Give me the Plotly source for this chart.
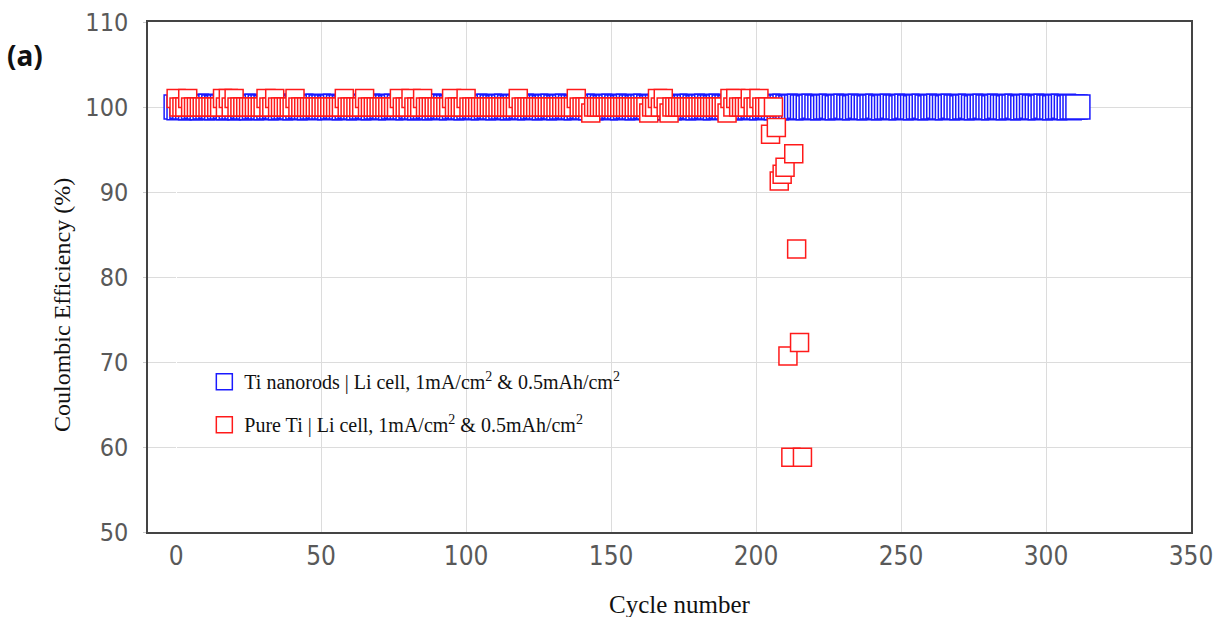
import plotly.graph_objects as go

# ---- data ----
blue_cycles = list(range(0, 312))
blue_ce = [
    100.0, 99.9, 100.1, 100.0, 100.0, 99.9, 100.0, 100.1, 100.0, 99.9, 100.0, 100.0, 100.1,
    100.0, 99.9, 100.0, 100.0, 100.1, 99.9, 100.0, 100.0, 100.0, 99.9, 100.1, 100.0, 100.0,
    99.9, 100.0, 100.1, 100.0, 100.0, 99.9, 100.0, 100.0, 100.1, 100.0, 99.9, 100.0, 100.0,
    100.1, 100.0, 99.9, 100.0, 100.1, 100.0, 100.0, 99.9, 100.0, 100.0, 100.1, 100.0, 100.0,
    100.0, 99.9, 100.0, 100.1, 100.0, 100.0, 99.9, 100.0, 100.1, 100.0, 100.0, 99.9, 100.0,
    100.0, 100.1, 100.0, 99.9, 100.0, 100.0, 100.1, 100.0, 100.0, 99.9, 100.0, 100.1, 100.0,
    100.0, 100.0, 99.9, 100.1, 100.0, 100.0, 99.9, 100.0, 100.0, 100.1, 100.0, 99.9, 100.0,
    100.0, 100.1, 100.0, 100.0, 99.9, 100.0, 100.1, 100.0, 100.0, 99.9, 100.0, 100.0, 100.1,
    100.0, 100.0, 99.9, 100.0, 100.1, 100.0, 100.0, 99.9, 100.0, 100.0, 100.1, 100.0, 99.9,
    100.0, 100.0, 100.1, 100.0, 100.0, 99.9, 100.0, 100.1, 100.0, 100.0, 99.9, 100.0, 100.0,
    100.1, 100.0, 99.9, 100.0, 100.0, 100.1, 100.0, 100.0, 99.9, 100.0, 100.1, 100.0, 100.0,
    99.9, 100.0, 100.0, 100.1, 100.0, 99.9, 100.0, 100.0, 100.1, 100.0, 100.0, 99.9, 100.0,
    100.1, 100.0, 100.0, 99.9, 100.0, 100.0, 100.1, 100.0, 99.9, 100.0, 100.0, 100.1, 100.0,
    100.0, 99.9, 100.0, 100.1, 100.0, 100.0, 99.9, 100.0, 100.0, 100.1, 100.0, 99.9, 100.0,
    100.0, 100.1, 100.0, 100.0, 99.9, 100.0, 100.1, 100.0, 100.0, 99.9, 100.0, 100.0, 100.1,
    100.0, 99.9, 100.0, 100.0, 100.1, 100.0, 100.0, 99.9, 100.0, 100.1, 100.0, 100.0, 99.9,
    100.0, 100.0, 100.1, 100.0, 99.9, 100.0, 100.0, 100.1, 100.0, 100.0, 99.9, 100.0, 100.1,
    100.0, 100.0, 99.9, 100.0, 100.0, 100.1, 100.0, 99.9, 100.0, 100.0, 100.1, 100.0, 100.0,
    99.9, 100.0, 100.1, 100.0, 100.0, 99.9, 100.0, 100.0, 100.1, 100.0, 99.9, 100.0, 100.0,
    100.1, 100.0, 100.0, 99.9, 100.0, 100.1, 100.0, 100.0, 99.9, 100.0, 100.0, 100.1, 100.0,
    99.9, 100.0, 100.0, 100.1, 100.0, 100.0, 99.9, 100.0, 100.1, 100.0, 100.0, 99.9, 100.0,
    100.0, 100.1, 100.0, 99.9, 100.0, 100.0, 100.1, 100.0, 100.0, 99.9, 100.0, 100.1, 100.0,
    100.0, 99.9, 100.0, 100.0, 100.1, 100.0, 99.9, 100.0, 100.0, 100.1, 100.0, 100.0, 99.9,
    100.0, 100.1, 100.0, 100.0, 99.9, 100.0, 100.0, 100.1, 100.0, 99.9, 100.0, 100.0, 100.0,
]

red_cycles = list(range(0, 217))
red_ce = [
    101.0, 100.0, 100.0, 100.0, 101.0, 100.0, 100.0, 100.0, 100.0, 100.0,   # 0-9
    100.0, 100.0, 100.0, 100.0, 100.0, 100.0, 101.0, 100.0, 101.0, 100.0,   # 10-19
    101.0, 100.0, 100.0, 100.0, 100.0, 100.0, 100.0, 100.0, 100.0, 100.0,   # 20-29
    100.0, 101.0, 100.0, 100.0, 101.0, 100.0, 100.0, 100.0, 100.0, 100.0,   # 30-39
    100.0, 101.0, 100.0, 100.0, 100.0, 100.0, 100.0, 100.0, 100.0, 100.0,   # 40-49
    100.0, 100.0, 100.0, 100.0, 100.0, 100.0, 100.0, 100.0, 101.0, 100.0,   # 50-59
    100.0, 100.0, 100.0, 100.0, 100.0, 101.0, 100.0, 100.0, 100.0, 100.0,   # 60-69
    100.0, 100.0, 100.0, 100.0, 100.0, 100.0, 100.0, 101.0, 100.0, 100.0,   # 70-79
    100.0, 101.0, 100.0, 100.0, 100.0, 101.0, 100.0, 100.0, 100.0, 100.0,   # 80-89
    100.0, 100.0, 100.0, 100.0, 100.0, 101.0, 100.0, 100.0, 100.0, 100.0,   # 90-99
    101.0, 100.0, 100.0, 100.0, 100.0, 100.0, 100.0, 100.0, 100.0, 100.0,   # 100-109
    100.0, 100.0, 100.0, 100.0, 100.0, 100.0, 100.0, 100.0, 101.0, 100.0,   # 110-119
    100.0, 100.0, 100.0, 100.0, 100.0, 100.0, 100.0, 100.0, 100.0, 100.0,   # 120-129
    100.0, 100.0, 100.0, 100.0, 100.0, 100.0, 100.0, 100.0, 101.0, 100.0,   # 130-139
    100.0, 100.0, 100.0, 99.3, 100.0, 100.0, 100.0, 100.0, 100.0, 100.0,    # 140-149
    100.0, 100.0, 100.0, 100.0, 100.0, 100.0, 100.0, 100.0, 100.0, 100.0,   # 150-159
    100.0, 100.0, 100.0, 99.3, 100.0, 100.0, 101.0, 100.0, 101.0, 100.0,    # 160-169
    99.3, 100.0, 100.0, 100.0, 100.0, 100.0, 100.0, 100.0, 100.0, 100.0,    # 170-179
    100.0, 100.0, 100.0, 100.0, 100.0, 100.0, 100.0, 100.0, 100.0, 100.0,   # 180-189
    99.3, 101.0, 100.0, 101.0, 100.0, 100.0, 100.0, 100.0, 101.0, 100.0,    # 190-199
    100.0, 101.0, 100.0, 100.0, 100.0, 96.8, 100.0, 97.6, 91.3, 92.1,       # 200-209
    92.9, 70.7, 58.8, 94.5, 83.3, 72.3, 58.8,                                # 210-216
]

x_ticks = [0, 50, 100, 150, 200, 250, 300, 350]
y_ticks = [50, 60, 70, 80, 90, 100, 110]

blue_name = "Ti nanorods | Li cell, 1mA/cm<sup>2</sup> &amp; 0.5mAh/cm<sup>2</sup>"
red_name = "Pure Ti | Li cell, 1mA/cm<sup>2</sup> &amp; 0.5mAh/cm<sup>2</sup>"

fig = go.Figure()
fig.add_trace(go.Scatter(
    x=blue_cycles, y=blue_ce, mode="markers", name=blue_name, legendgroup="b",
    marker=dict(symbol="square", size=24, color="white",
                line=dict(color="#1a1aff", width=1.5)),
))
fig.add_trace(go.Scatter(
    x=red_cycles, y=red_ce, mode="markers", name=red_name, legendgroup="r",
    marker=dict(symbol="square", size=18, color="white",
                line=dict(color="#ff1a1a", width=1.5)),
))

tick_font = "Liberation Sans Narrow, Arial Narrow, DejaVu Sans Condensed, sans-serif"
serif = "Liberation Serif, Times New Roman, serif"

fig.update_layout(
    width=1214, height=617, autosize=False,
    margin=dict(l=148, r=23, t=22, b=85),
    paper_bgcolor="white", plot_bgcolor="white",
    showlegend=True,
    legend=dict(x=0.054, y=0.333, xanchor="left", yanchor="top",
                bgcolor="rgba(0,0,0,0)", font=dict(family=serif, size=20, color="#111"),
                tracegroupgap=14, itemsizing="trace"),
    xaxis=dict(range=[-9.7, 350], tickvals=x_ticks, showgrid=True, gridcolor="#dcdcdc",
               gridwidth=1, zeroline=True, zerolinecolor="white", zerolinewidth=1,
               showline=True, linecolor="#444", linewidth=1.5, mirror=True,
               automargin=False, ticklabeloverflow="allow",
               ticks="", tickfont=dict(family=tick_font, size=26, color="#595959"),
               ticklabelstandoff=0),
    yaxis=dict(range=[50, 110], tickvals=y_ticks, showgrid=True, gridcolor="#dcdcdc",
               gridwidth=1, zeroline=False,
               showline=True, linecolor="#444", linewidth=1.5, mirror=True,
               automargin=False, ticklabeloverflow="allow",
               ticks="outside", ticklen=3, tickcolor="#cccccc",
               tickfont=dict(family=tick_font, size=25, color="#595959"),
               ticklabelstandoff=10),
    annotations=[
        dict(text="<b>(a)</b>", xref="paper", yref="paper", x=-0.137, y=0.935,
             xanchor="left", yanchor="middle", showarrow=False,
             font=dict(family="Noto Sans, sans-serif", size=28, color="#111")),
        dict(text="Cycle number", xref="paper", yref="paper", x=0.51, y=-0.142,
             xanchor="center", yanchor="middle", showarrow=False,
             font=dict(family=serif, size=25, color="#111")),
        dict(text="Coulombic Efficiency (%)", xref="paper", yref="paper", x=-0.0825, y=0.445,
             xanchor="center", yanchor="middle", textangle=-90, showarrow=False,
             font=dict(family=serif, size=24, color="#111")),
    ],
)

# remove the default page margin so the 1214x617 figure fills the window exactly
fig.write_html(
    "out.html",
    config={"displayModeBar": False},
    post_script="document.documentElement.style.overflow='hidden';"
                "document.body.style.margin='0';document.body.style.overflow='hidden';",
)
